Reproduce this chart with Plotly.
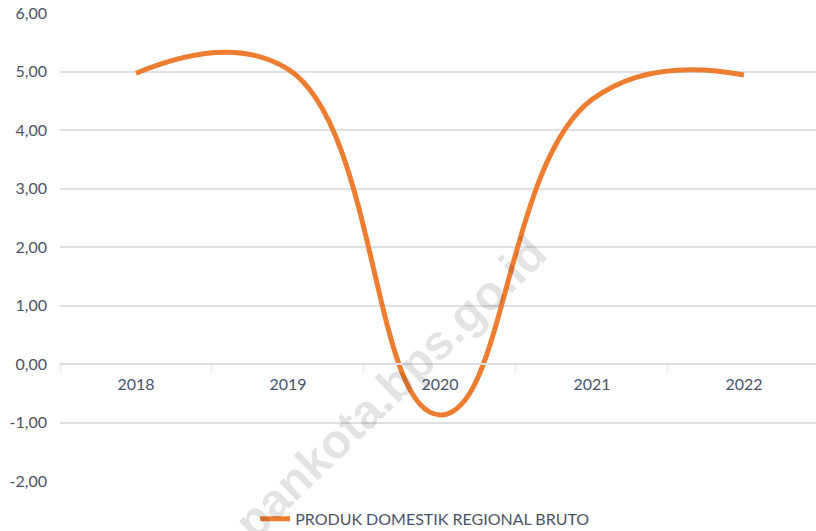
import plotly.graph_objects as go

years = ["2018", "2019", "2020", "2021", "2022"]
pdrb = [4.97, 5.04, -0.87, 4.52, 4.94]
series_name = "PRODUK DOMESTIK REGIONAL BRUTO"
y_ticks = [-2, -1, 0, 1, 2, 3, 4, 5, 6]
y_tick_labels = ["-2,00", "-1,00", "0,00", "1,00", "2,00", "3,00", "4,00", "5,00", "6,00"]
watermark = "pankota.bps.go.id"

label_color = "#4a5468"
grid_color = "#dde1e6"
font_family = "Lato, Carlito, Calibri, sans-serif"

fig = go.Figure()
fig.add_trace(go.Scatter(
    x=years, y=pdrb, mode="lines", name=series_name,
    line=dict(color="#ED7D31", width=5, shape="spline", smoothing=1.3),
))

fig.add_annotation(
    text="<b>" + watermark + "</b>", xref="paper", yref="paper", x=0.437, y=0.2,
    showarrow=False, textangle=-44,
    font=dict(family="Liberation Sans, Arial, sans-serif", size=48, color="rgba(0,0,0,0.11)"),
    xanchor="center", yanchor="middle",
)

fig.update_layout(
    width=816, height=531,
    margin=dict(l=60, r=0, t=13, b=50, autoexpand=False),
    paper_bgcolor="white", plot_bgcolor="white",
    font=dict(family=font_family, color=label_color, size=16),
    showlegend=True,
    legend=dict(orientation="h", x=0.483, xanchor="center", y=-0.081, yanchor="middle",
                font=dict(size=16, color=label_color), bgcolor="rgba(0,0,0,0)"),
    xaxis=dict(
        type="category", range=[-0.5, 4.474], automargin=False,
        anchor="free", position=0.25,
        showline=True, linecolor=grid_color, linewidth=1.5,
        ticks="outside", tickson="boundaries", ticklen=6, tickcolor=grid_color, tickwidth=1,
        showgrid=False, ticklabelstandoff=6,
        tickfont=dict(size=16, color=label_color),
    ),
    yaxis=dict(
        range=[-2, 6], tickvals=y_ticks, ticktext=y_tick_labels, automargin=False,
        showgrid=True, gridcolor=grid_color, gridwidth=1.5,
        zeroline=False, showline=False, ticks="",
        ticklabelstandoff=12,
        tickfont=dict(size=16, color=label_color),
    ),
)

fig.write_html("out.html", config={"displayModeBar": False},
               post_script="document.body.style.margin='0';")
